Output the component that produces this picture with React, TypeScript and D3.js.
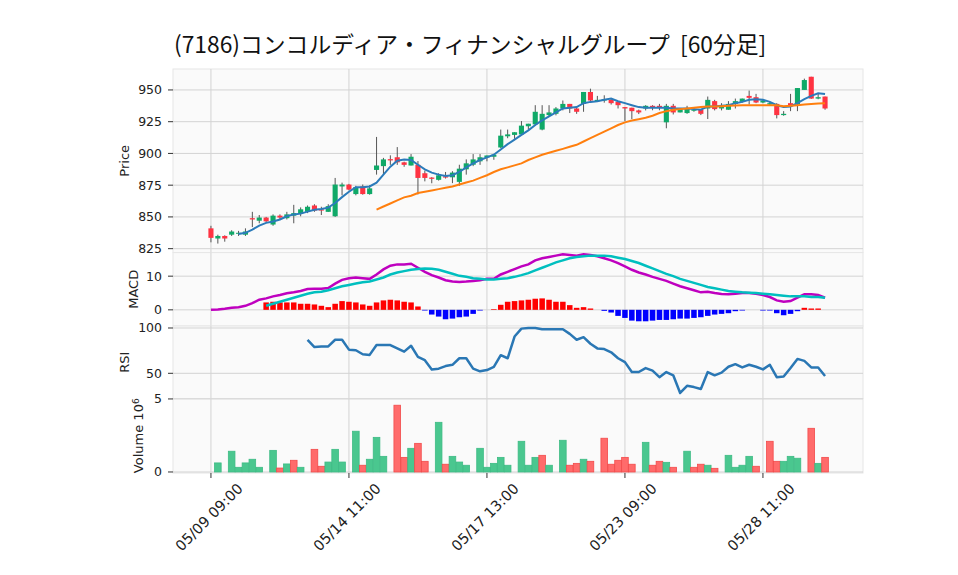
import React from "react";
import * as d3 from "d3";

const title = "(7186)コンコルディア・フィナンシャルグループ  [60分足]";

const tickIdx = [0, 20, 40, 60, 80];
const tickLabels = ["05/09 09:00", "05/14 11:00", "05/17 13:00", "05/23 09:00", "05/28 11:00"];

const opens = [
  841, 833, 835, 836, 837, 836, 849, 847, 849.5, 844, 851, 849, 851, 852.5, 854, 859, 856, 854, 850.5, 874,
  875.5, 868, 874, 868, 887, 890, 895.5, 897, 893, 890.5, 891, 884.4, 881, 879.2, 882, 881.2, 877.6, 887.5, 891.1, 893.8,
  896.8, 897.4, 904.7, 913.5, 914.6, 915, 921.4, 922.9, 918.8, 930.2, 931.2, 935.4, 939, 935.4, 939, 948.4, 941.2, 941.7, 942.2, 940.6,
  936.5, 936, 933.9, 935.4, 937.5, 937.5, 924.5, 937.5, 932.3, 931.8, 934, 934.4, 935.4, 941.2, 935.4, 934.4, 939, 940.6, 945.3, 944.3,
  940.1, 938.5, 939, 930.2, 939.6, 938.5, 950, 960.4, 943.2, 944.8,
];
const highs = [
  843, 836, 835.5, 839.5, 839, 841, 854, 851.5, 850, 852, 852, 854, 859.5, 857.5, 859, 860, 858, 860, 880.7, 877,
  876, 874.5, 875.5, 875, 913, 896.5, 898.5, 905, 893.5, 899.5, 894, 886.5, 881.3, 884.4, 885.4, 886, 891.1, 895.3, 899.5, 899.5,
  898.4, 899.5, 918.8, 918.8, 916.7, 925.5, 923.4, 938, 938, 938, 936.5, 941.7, 939, 937, 948.4, 951, 945.3, 945.8, 943, 941,
  936.5, 936, 934.5, 938, 938, 939, 939, 939, 934.9, 937.5, 936, 935, 944.8, 942.2, 939.6, 941.2, 943.2, 943.2, 949.5, 946.9,
  942.5, 940.6, 939.6, 933.3, 946.9, 951.5, 958.9, 960.4, 947.4, 944.8,
];
const lows = [
  830, 829, 830.5, 835, 835, 835, 842, 845, 846, 843, 848, 848, 845, 850.5, 853, 854, 851.5, 854, 850, 867,
  871, 867, 867.5, 867.5, 883.3, 883, 891, 891, 889.5, 890.5, 867.7, 878, 876.5, 878.6, 880.2, 876.6, 874.5, 883.3, 890, 891,
  893.8, 895, 904.2, 912, 911.5, 915, 918.8, 921.9, 918.2, 929.2, 930, 933.9, 931.8, 931.2, 932.8, 941.2, 940.6, 940, 938.5, 935.4,
  925.5, 927.1, 931, 933.9, 934, 934, 919.8, 930.7, 932.3, 931.2, 932.8, 930.2, 927.1, 933.9, 933.9, 934.4, 935.4, 940, 938.5, 939.6,
  939.6, 938, 927.6, 929.7, 933.3, 933.3, 950, 943, 942.7, 934.4,
];
const closes = [
  833.5, 835, 833, 838.5, 837.5, 838.5, 848, 849.5, 846.5, 851, 849.5, 852, 853, 856, 858, 855, 855, 858.5, 875.5, 875.5,
  871.5, 873.5, 868, 872.5, 890.5, 895.3, 894.5, 893, 891, 897.4, 880.7, 880.7, 880, 882.8, 881, 884.9, 888, 892.2, 895.3, 897,
  898.4, 899, 914, 915, 916.7, 921.9, 923.4, 932.8, 931.2, 932.3, 935.4, 939, 935.4, 932.8, 948.4, 941.7, 942.2, 942.7, 939.6, 938,
  935.4, 933.3, 932.3, 937.5, 936.5, 936, 937.5, 932.3, 934.9, 935.4, 934.4, 931.2, 942.2, 934.9, 937, 939, 941.2, 943.2, 943.8, 940.1,
  941.7, 939.6, 930.2, 931.2, 938, 951.5, 957.8, 943.2, 944.3, 935.4,
];

const ma5 = [
  null, null, null, null, 836.5, 837.5, 840, 843.2, 845.3, 846.4, 848, 850.5, 852, 852.6, 854.2, 855.7, 856.3, 857.3, 861, 865.6,
  869.8, 873.4, 873.4, 874, 877, 883.3, 889.6, 894.3, 895.3, 894.8, 891.1, 887.5, 884.9, 883.3, 882.3, 882.8, 885.4, 889, 892.2, 894.8,
  896.9, 899, 903.1, 907.3, 910.9, 914.6, 918.2, 922.4, 926, 929.2, 932.3, 935.4, 935.9, 936.5, 939.6, 940.6, 941.1, 942.2, 943.2, 941.1,
  939.6, 938, 936.5, 935.9, 935.9, 935.9, 935.9, 935.4, 935.4, 935.4, 934.9, 934.4, 937, 937, 937.5, 938, 939.6, 940.6, 942.2, 942.7,
  942.2, 940.6, 938, 936.5, 937, 939.6, 942.7, 945.3, 947.4, 946.9,
];
const ma25 = [
  null, null, null, null, null, null, null, null, null, null, null, null, null, null, null, null, null, null, null, null,
  null, null, null, null, 855.7, 858.2, 860.6, 863, 865.4, 866.7, 868.8, 869.8, 870.8, 871.9, 872.9, 874, 875.5, 877.1, 878.6, 880.7,
  882.8, 885.4, 887.5, 889, 890.6, 892.2, 894.8, 896.9, 899, 900.5, 902.1, 903.6, 905.2, 906.8, 909.4, 912, 914.6, 917.2, 919.8, 922.4,
  924.5, 926, 927, 928.1, 929.7, 931.8, 933.3, 934.4, 934.9, 935.4, 935.9, 936.5, 937, 937, 937.2, 937.5, 937.8, 938, 938, 938,
  938, 938, 938, 937.2, 937.5, 938, 938.5, 939, 939.3, 939.6,
];

const macd = [
  0, 0.1, 0.3, 0.6, 0.8, 1.2, 2.0, 3.0, 3.4, 4.0, 4.4, 4.9, 5.2, 5.6, 6.2, 6.3, 6.3, 6.5, 7.8, 8.9,
  9.4, 9.6, 9.4, 9.2, 10.5, 12.0, 13.1, 13.5, 13.5, 13.7, 12.5, 11.3, 10.3, 9.6, 8.8, 8.4, 8.3, 8.4, 8.6, 8.8,
  9.2, 9.2, 10.5, 11.3, 12.1, 12.9, 13.5, 14.7, 15.3, 15.7, 16.1, 16.5, 16.3, 16.1, 16.5, 16.3, 15.9, 15.3, 14.7, 13.9,
  12.9, 11.9, 11.1, 10.5, 9.8, 9.2, 8.6, 7.8, 7.0, 6.4, 5.8, 5.2, 5.4, 5.0, 4.7, 4.6, 4.8, 5.0, 5.0, 4.8,
  4.4, 3.8, 2.8, 2.4, 2.6, 3.6, 4.6, 4.6, 4.4, 3.6,
];
const signal = [
  null, null, null, null, null, null, null, null, 1.2, 1.8, 2.4, 3.0, 3.6, 4.2, 4.8, 5.2, 5.4, 5.8, 6.4, 7.0,
  7.4, 7.8, 8.2, 8.4, 9.0, 9.6, 10.5, 11.1, 11.5, 11.9, 12.1, 12.3, 12.2, 11.9, 11.3, 10.7, 10.1, 9.8, 9.4, 9.2,
  9.0, 9.0, 9.2, 9.4, 9.8, 10.3, 10.9, 11.7, 12.5, 13.3, 14.1, 14.7, 15.3, 15.7, 15.9, 16.1, 16.1, 16.1, 15.9, 15.5,
  15.1, 14.5, 13.9, 13.1, 12.3, 11.5, 10.7, 10.0, 9.2, 8.6, 8.0, 7.4, 6.8, 6.4, 6.0, 5.6, 5.4, 5.2, 5.1, 5.0,
  4.8, 4.6, 4.4, 4.2, 4.0, 4.0, 4.0, 3.8, 3.8, 3.6,
];
const hist = [
  null, null, null, null, null, null, null, null, 2.2, 2.4, 2.2, 2.2, 2.2, 1.8, 1.8, 1.6, 1.2, 0.8, 1.8, 2.6,
  2.4, 2.2, 1.6, 1.2, 2.2, 2.8, 3.0, 2.8, 2.4, 2.2, 1.0, -0.2, -1.4, -2.0, -2.8, -2.6, -2.2, -2.0, -1.2, -0.2,
  0, 0.2, 1.5, 2.4, 2.6, 2.8, 3.0, 3.3, 3.4, 3.0, 2.4, 2.4, 1.4, 0.6, 0.8, 0.4, 0, -0.3, -0.8, -1.8,
  -2.4, -3.2, -3.4, -3.4, -3.2, -3.0, -3.0, -2.8, -2.6, -2.6, -2.4, -2.2, -1.8, -1.4, -1.2, -1.0, -0.4, -0.2, 0, 0,
  -0.2, -0.2, -1.0, -1.6, -1.2, -0.4, 0.6, 0.4, 0.4, 0,
];

const rsi = [
  null, null, null, null, null, null, null, null, null, null, null, null, null, null, 87.0, 79.0, 79.7, 79.7, 87.0, 87.0,
  76.1, 75.4, 71.0, 70.3, 81.2, 81.2, 81.2, 77.5, 73.9, 80.4, 68.1, 64.5, 54.3, 55.1, 58.0, 59.4, 66.6, 66.6, 55.1, 52.2,
  53.6, 57.2, 70.0, 66.6, 90.6, 99.3, 99.9, 99.9, 98.6, 98.6, 98.6, 98.6, 93.5, 87.0, 89.9, 82.6, 77.5, 76.8, 73.2, 66.6,
  62.3, 51.4, 51.4, 55.8, 52.9, 45.7, 51.4, 47.8, 28.3, 36.2, 34.8, 32.6, 51.4, 47.8, 50.7, 57.2, 60.1, 56.5, 59.4, 57.2,
  54.3, 59.4, 45.7, 46.4, 55.8, 65.9, 63.7, 56.5, 56.5, 47.1,
];

const volumeMillions = [
  0, 0.62, 0, 1.42, 0.32, 0.62, 0.87, 0.32, 0, 1.48, 0.27, 0.55, 0.8, 0.32, 0, 1.55, 0.39, 0.68, 1.55, 0.68,
  0, 2.79, 0.46, 0.87, 2.37, 1.07, 0, 4.57, 1.0, 1.62, 1.96, 0.73, 0, 3.4, 0.53, 1.07, 0.68, 0.46, 0, 1.62,
  0.32, 0.59, 1.0, 0.46, 0, 2.1, 0.46, 1.0, 1.14, 0.46, 0, 2.17, 0.46, 0.59, 0.87, 0.73, 0, 2.31, 0.53, 0.8,
  1.0, 0.53, 0, 2.03, 0.46, 0.73, 0.66, 0.32, 0, 1.42, 0.32, 0.53, 0.46, 0.25, 0, 1.14, 0.32, 0.46, 1.07, 0.39,
  0, 2.1, 0.73, 0.73, 1.07, 0.94, 0, 2.99, 0.59, 1.0,
];
// 1 = up (green), 0 = down (red), as coloured in the picture
const volumeUp = [
  1, 1, 1, 1, 1, 1, 1, 1, 1, 1, 0, 1, 0, 1, 1, 0, 0, 1, 1, 1,
  1, 1, 0, 1, 1, 1, 1, 0, 0, 1, 0, 0, 1, 1, 0, 1, 1, 1, 1, 1,
  1, 1, 1, 1, 1, 1, 1, 1, 0, 1, 1, 1, 0, 0, 1, 0, 0, 0, 0, 0,
  0, 0, 0, 1, 0, 0, 1, 0, 1, 1, 0, 0, 1, 0, 1, 1, 1, 1, 1, 0,
  0, 0, 0, 1, 1, 1, 1, 0, 1, 0,
];

const W = 958;
const H = 575;
const left = 173;
const right = 863;
const pPrice = [69, 252.6];
const pMacd = [252.6, 326];
const pRsi = [326, 398.5];
const pVol = [398.5, 473];

const font = "'DejaVu Sans', sans-serif";
const gridColor = "#d3d3d3";
const upColor = "#0fa968";
const downColor = "#ff3342";

export default function App() {
  const idx = d3.range(closes.length);
  const x = d3.scaleLinear().domain([-5.5, 94.5]).range([left, right]);
  const yPrice = d3.scaleLinear().domain([821.9, 966.5]).range([pPrice[1], pPrice[0]]);
  const yMacd = d3.scaleLinear().domain([-4.8, 17]).range([pMacd[1], pMacd[0]]);
  const yRsi = d3.scaleLinear().domain([22.2, 102.2]).range([pRsi[1], pRsi[0]]);
  const yVol = d3.scaleLinear().domain([-0.07, 5.03]).range([pVol[1], pVol[0]]);
  const bw = x(1) - x(0);

  const mkLine = (vals: (number | null)[], y: d3.ScaleLinear<number, number>) =>
    d3
      .line<number>()
      .defined((i) => vals[i] != null)
      .x((i) => x(i))
      .y((i) => y(vals[i] as number))(idx) || "";

  const panel = (p: number[], y: d3.ScaleLinear<number, number>, ticks: number[], labels: string[], key: string) => (
    <g key={key}>
      <rect x={left} y={p[0]} width={right - left} height={p[1] - p[0]} fill="#fafafa" stroke="#e6e6e6" />
      {tickIdx.map((t) => (
        <line key={"v" + t} x1={x(t)} x2={x(t)} y1={p[0]} y2={p[1]} stroke={gridColor} strokeWidth={1} />
      ))}
      {ticks.map((t, k) => (
        <g key={"h" + t}>
          <line x1={left} x2={right} y1={y(t)} y2={y(t)} stroke={gridColor} strokeWidth={1} />
          <line x1={left - 5} x2={left} y1={y(t)} y2={y(t)} stroke="#333" strokeWidth={1} />
          <text x={left - 11} y={y(t)} dy="0.36em" textAnchor="end" fontSize={12.5} fill="#222" fontFamily={font}>
            {labels[k]}
          </text>
        </g>
      ))}
    </g>
  );

  return (
    <svg width={W} height={H} style={{ position: "absolute", left: 0, top: 0, background: "#fff" }}>
      <text
        x={174}
        y={53}
        fontSize={22.8}
        fontFamily="'Noto Sans CJK JP', sans-serif"
        fill="#111"
        style={{ whiteSpace: "pre" }}
      >
        {title}
      </text>

      {panel(pPrice, yPrice, [825, 850, 875, 900, 925, 950], ["825", "850", "875", "900", "925", "950"], "p")}
      {panel(pMacd, yMacd, [0, 10], ["0", "10"], "m")}
      {panel(pRsi, yRsi, [50, 100], ["50", "100"], "r")}
      {panel(pVol, yVol, [0, 5], ["0", "5"], "v")}

      {/* candles */}
      {idx.map((i) => {
        const up = closes[i] >= opens[i];
        const top = yPrice(Math.max(opens[i], closes[i]));
        const bot = yPrice(Math.min(opens[i], closes[i]));
        return (
          <g key={"c" + i}>
            <line x1={x(i)} x2={x(i)} y1={yPrice(highs[i])} y2={yPrice(lows[i])} stroke="#555" strokeWidth={1} />
            <rect
              x={x(i) - bw * 0.37}
              y={top}
              width={bw * 0.74}
              height={Math.max(bot - top, 1)}
              fill={up ? upColor : downColor}
            />
          </g>
        );
      })}
      <path d={mkLine(ma5, yPrice)} fill="none" stroke="#2b7bba" strokeWidth={2} />
      <path d={mkLine(ma25, yPrice)} fill="none" stroke="#ff7f0e" strokeWidth={2} />

      {/* MACD */}
      {idx.map((i) =>
        hist[i] == null || hist[i] === 0 ? null : (
          <rect
            key={"h" + i}
            x={x(i) - bw * 0.4}
            y={Math.min(yMacd(hist[i] as number), yMacd(0))}
            width={bw * 0.8}
            height={Math.abs(yMacd(hist[i] as number) - yMacd(0))}
            fill={(hist[i] as number) > 0 ? "#ff0000" : "#0000ff"}
          />
        )
      )}
      <path d={mkLine(macd, yMacd)} fill="none" stroke="#bf00bf" strokeWidth={2.5} />
      <path d={mkLine(signal, yMacd)} fill="none" stroke="#00bfbf" strokeWidth={2.5} />

      {/* RSI */}
      <path d={mkLine(rsi, yRsi)} fill="none" stroke="#2a77b4" strokeWidth={2.5} strokeLinejoin="round" />

      {/* Volume */}
      {idx.map((i) =>
        volumeMillions[i] === 0 ? null : (
          <rect
            key={"v" + i}
            x={x(i) - bw * 0.48}
            y={yVol(volumeMillions[i])}
            width={bw * 0.96}
            height={yVol(0) - yVol(volumeMillions[i])}
            fill={volumeUp[i] ? "#4ac78f" : "#ff6b6b"}
            stroke={volumeUp[i] ? "#3dbb84" : "#f24a4a"}
            strokeWidth={0.8}
          />
        )
      )}

      {/* x ticks */}
      {tickIdx.map((t, k) => (
        <g key={"xt" + t}>
          <line x1={x(t)} x2={x(t)} y1={pVol[1]} y2={pVol[1] + 5} stroke="#333" />
          <text
            transform={`translate(${x(t) - 2},${517}) rotate(-45)`}
            textAnchor="middle"
            dy="0.36em"
            fontSize={14.5}
            fill="#222"
            fontFamily={font}
          >
            {tickLabels[k]}
          </text>
        </g>
      ))}

      {/* y labels */}
      <text transform={`translate(129,${(pPrice[0] + pPrice[1]) / 2}) rotate(-90)`} textAnchor="middle" fontSize={13} fill="#222" fontFamily={font}>
        Price
      </text>
      <text transform={`translate(138,${(pMacd[0] + pMacd[1]) / 2}) rotate(-90)`} textAnchor="middle" fontSize={13} fill="#222" fontFamily={font}>
        MACD
      </text>
      <text transform={`translate(128.5,${(pRsi[0] + pRsi[1]) / 2}) rotate(-90)`} textAnchor="middle" fontSize={13} fill="#222" fontFamily={font}>
        RSI
      </text>
      <text transform={`translate(143,${(pVol[0] + pVol[1]) / 2}) rotate(-90)`} textAnchor="middle" fontSize={13} fill="#222" fontFamily={font}>
        Volume{"  "}
        <tspan>10</tspan>
        <tspan dy="-0.45em" fontSize={9}>
          6
        </tspan>
      </text>
    </svg>
  );
}
